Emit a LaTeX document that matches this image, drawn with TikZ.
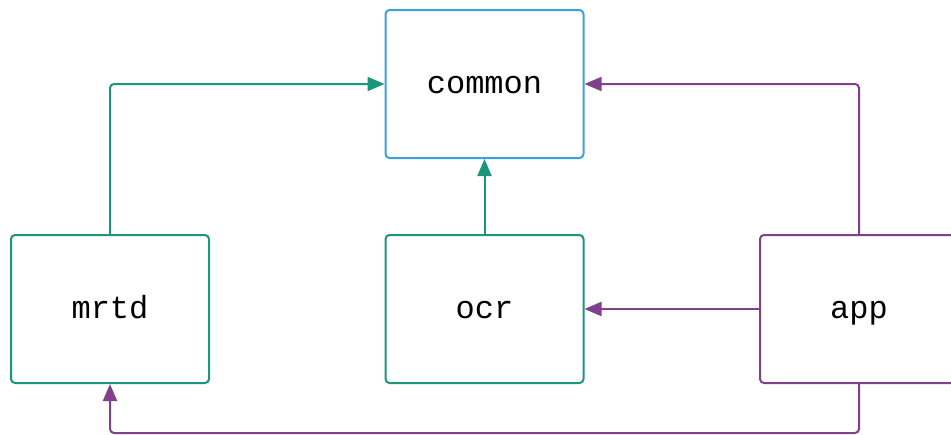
\documentclass[tikz,border=0pt]{standalone}
\usepackage{fontspec}
\setmonofont{Liberation Mono}
\usetikzlibrary{arrows.meta}
\definecolor{tealc}{RGB}{26,150,125}
\definecolor{bluec}{RGB}{59,163,217}
\definecolor{purplec}{RGB}{128,64,140}
\begin{document}
\begin{tikzpicture}[x=1pt,y=-1pt,
  box/.style={draw, line width=2pt, rounded corners=4pt, minimum width=198pt, minimum height=148pt, inner sep=0pt, text height=18pt, text depth=0pt, font=\ttfamily\fontsize{32}{36}\selectfont, fill=white},
  conn/.style={line width=2pt, rounded corners=4pt, -{Triangle[length=17pt,width=14pt]}}]
\useasboundingbox (0,0) rectangle (951,434);
\node[box, draw=bluec] (common) at (484.5,84) {common};
\node[box, draw=tealc] (mrtd) at (110,309) {mrtd};
\node[box, draw=tealc] (ocr) at (484.5,309) {ocr};
\node[box, draw=purplec] (app) at (859,309) {app};
\coordinate (b1) at (859,433);
\coordinate (b2) at (110,433);
\draw[conn, tealc] (mrtd.north) |- (common.west);
\draw[conn, tealc] (ocr.north) -- (common.south);
\draw[conn, purplec] (app.north) |- (common.east);
\draw[conn, purplec] (app.west) -- (ocr.east);
\draw[conn, purplec] (app.south) -- (b1) -- (b2) -- (mrtd.south);
\end{tikzpicture}
\end{document}
